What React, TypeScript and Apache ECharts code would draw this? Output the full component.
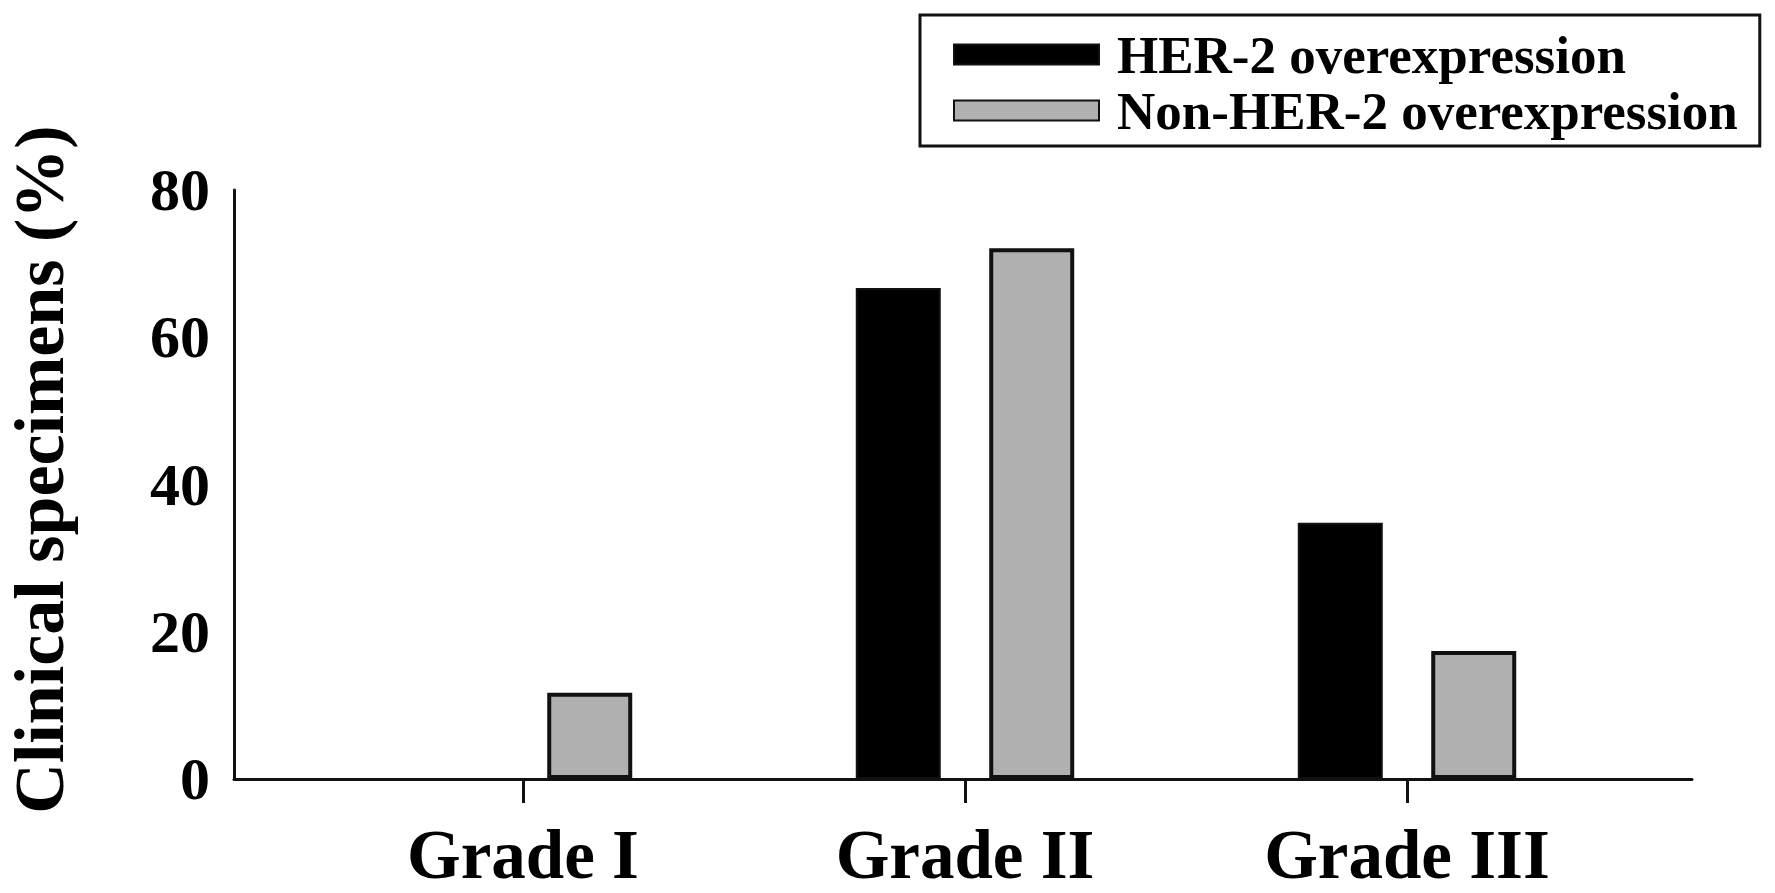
import React, { useEffect, useRef } from "react";
import * as echarts from "echarts";

const categories = ["Grade I", "Grade II", "Grade III"];
const her2Values = [0, 66.7, 34.8];
const nonHer2Values = [11.7, 72.1, 17.4];
const yTicks = { min: 0, max: 80, interval: 20 };
const seriesNames = ["HER-2 overexpression", "Non-HER-2 overexpression"];

const FONT = "'Liberation Serif', 'Times New Roman', serif";

export default function App() {
  const ref = useRef<HTMLDivElement>(null);
  useEffect(() => {
    document.body.style.margin = "0";
    const chart = echarts.init(ref.current!, null, { renderer: "svg" });
    chart.setOption({
      animation: false,
      backgroundColor: "#ffffff",
      legend: {
        orient: "vertical",
        left: 920,
        top: 15,
        data: seriesNames,
        itemWidth: 145,
        itemHeight: 20,
        itemGap: 3,
        padding: [13, 22, 9, 33],
        borderColor: "#111",
        borderWidth: 3,
        icon: "rect",
        textStyle: {
          fontFamily: FONT,
          fontWeight: "bold",
          fontSize: 53,
          color: "#000",
          lineHeight: 40,
          padding: [0, 0, 0, 13],
        },
      },
      grid: [
        { left: 302, right: 147, top: 190, bottom: 114, outerBoundsMode: "none", containLabel: false },
        { left: 234, right: 83, top: 190, bottom: 114, outerBoundsMode: "none", containLabel: false },
      ],
      xAxis: [
        {
          type: "category",
          gridIndex: 0,
          data: categories,
          axisLine: { show: false },
          axisTick: {
            show: true,
            alignWithLabel: true,
            length: 24,
            lineStyle: { color: "#111", width: 3 },
          },
          axisLabel: {
            fontFamily: FONT,
            fontWeight: "bold",
            fontSize: 69,
            color: "#000",
            margin: 41,
          },
        },
        {
          type: "value",
          gridIndex: 1,
          min: 0,
          max: 1,
          axisLine: { show: true, lineStyle: { color: "#111", width: 3 } },
          axisTick: { show: false },
          axisLabel: { show: false },
          splitLine: { show: false },
        },
      ],
      yAxis: [
        {
          type: "value",
          gridIndex: 0,
          min: yTicks.min,
          max: yTicks.max,
          interval: yTicks.interval,
          show: false,
          splitLine: { show: false },
        },
        {
          type: "value",
          gridIndex: 1,
          min: yTicks.min,
          max: yTicks.max,
          interval: yTicks.interval,
          axisLine: { show: true, lineStyle: { color: "#111", width: 3 } },
          axisTick: { show: false },
          splitLine: { show: false },
          axisLabel: {
            fontFamily: FONT,
            fontWeight: "bold",
            fontSize: 60,
            color: "#000",
            margin: 24,
          },
          name: "Clinical specimens (%)",
          nameLocation: "middle",
          nameRotate: 90,
          nameGap: 160,
          nameTextStyle: {
            fontFamily: FONT,
            fontWeight: "bold",
            fontSize: 70,
            color: "#000",
            padding: [0, 0, 0, 30],
          },
        },
      ],
      series: [
        {
          name: seriesNames[0],
          type: "bar",
          xAxisIndex: 0,
          yAxisIndex: 0,
          data: her2Values,
          barWidth: 85,
          barGap: "57%",
          itemStyle: { color: "#000", borderColor: "#111", borderWidth: 2 },
        },
        {
          name: seriesNames[1],
          type: "bar",
          xAxisIndex: 0,
          yAxisIndex: 0,
          data: nonHer2Values,
          barWidth: 85,
          barGap: "57%",
          itemStyle: { color: "#b0b0b0", borderColor: "#111", borderWidth: 4 },
        },
      ],
    });
    return () => chart.dispose();
  }, []);
  return <div ref={ref} style={{ width: 1775, height: 893 }} />;
}
